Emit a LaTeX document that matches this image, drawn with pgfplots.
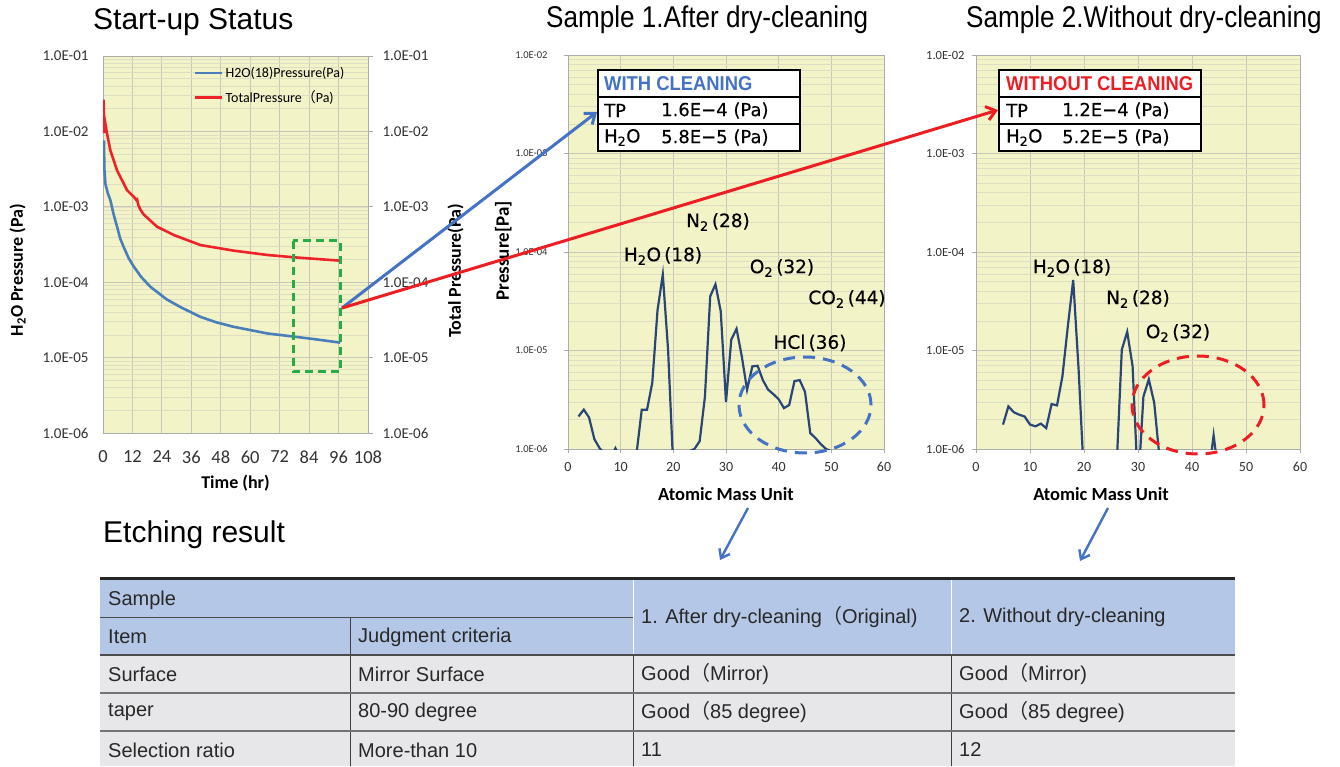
\documentclass[border=0pt]{standalone}
\usepackage{fontspec}
\setmainfont{Liberation Sans}
\newfontfamily\carlito{Carlito}
\newfontfamily\dejavu[FakeBold=0.35]{DejaVu Sans}
\newfontfamily\titlenarrow[FakeStretch=0.87]{Liberation Sans}
\newfontfamily\boxf[FakeStretch=0.92]{Liberation Sans}
\newfontfamily\cjk{Noto Sans CJK SC}
\usepackage{pgfplots}
\pgfplotsset{compat=1.18}
\usetikzlibrary{arrows.meta}

\definecolor{chartbg}{RGB}{243,243,200}
\definecolor{gridc}{RGB}{200,200,185}
\definecolor{mgridc}{RGB}{222,222,196}
\definecolor{h2oblue}{RGB}{74,126,187}
\definecolor{tpred}{RGB}{238,34,40}
\definecolor{navy}{RGB}{42,70,118}
\definecolor{arrblue}{RGB}{68,114,196}
\definecolor{arrred}{RGB}{236,30,36}
\definecolor{dgreen}{RGB}{40,170,70}
\definecolor{hdr}{RGB}{180,199,231}
\definecolor{rowbg}{RGB}{231,231,233}
\definecolor{tickc}{RGB}{50,50,50}
\definecolor{tabtext}{RGB}{40,40,40}

\begin{document}
\begin{tikzpicture}
\path[use as bounding box] (0pt,0pt) rectangle (1340pt,766pt);

% ---------------- Left chart: start-up status ----------------
\begin{axis}[
  scale only axis, anchor=south west, ymode=log,
  axis background/.style={fill=chartbg},
  xmajorgrids, ymajorgrids, yminorgrids,
  major grid style={gridc, line width=0.8pt},
  minor grid style={mgridc, line width=0.6pt},
  axis line style={gray!65, line width=0.9pt},
  xtick pos=bottom, ytick pos=left,
  major tick length=0pt, minor tick length=0pt,
  at={(103pt,333pt)}, width=265pt, height=377pt,
  xmin=0, xmax=108, ymin=1e-6, ymax=1e-1,
  xtick={0,12,24,36,48,60,72,84,96,108},
  xticklabels={0,12,24,36,48,60,72,84,96,108},
  ytick={1e-6,1e-5,1e-4,1e-3,1e-2,1e-1},
  yticklabels={1.0E-06,1.0E-05,1.0E-04,1.0E-03,1.0E-02,1.0E-01},
  yticklabel style={font=\carlito\fontsize{15}{16}\selectfont, text=tickc, xshift=-11pt},
  xticklabel style={font=\carlito\fontsize{18.5}{20}\selectfont, text=tickc, yshift=-14pt},
  xlabel={Time (hr)},
  xlabel style={at={(axis description cs:0.5,0)}, anchor=center, yshift=-50pt,
    font=\carlito\bfseries\fontsize{18}{20}\selectfont},
  ylabel={H\textsubscript{2}O Pressure (Pa)},
  ylabel style={at={(axis description cs:-0.322,0.432)}, anchor=center,
    font=\carlito\bfseries\fontsize{18}{20}\selectfont},
  legend style={at={(axis description cs:0.33,0.982)}, anchor=north west,
    draw=none, fill=none, font=\carlito\fontsize{14}{16}\selectfont,
    row sep=8pt},
  legend image post style={xscale=1.6},
  legend cell align=left,
]
\addplot[h2oblue, line width=2.6pt] coordinates {
  (0.4,7.6e-3) (0.55,3.2e-3) (1.0,2.0e-3) (2.0,1.5e-3) (3.0,1.23e-3)
  (4.3,8.0e-4) (5.7,5.5e-4) (7.0,3.8e-4) (8.4,2.95e-4) (10.4,2.1e-4)
  (12.5,1.62e-4) (15.5,1.18e-4) (19.3,8.7e-5) (26,5.9e-5) (32,4.6e-5)
  (39.7,3.47e-5) (46,2.95e-5) (53,2.57e-5) (60,2.32e-5) (67,2.09e-5)
  (77.7,1.9e-5) (86,1.76e-5) (96.7,1.58e-5)
};
\addlegendentry{H2O(18)Pressure(Pa)}
\addplot[tpred, line width=2.6pt] coordinates {
  (0.27,2.64e-2) (0.41,9.5e-3) (0.82,1.35e-2) (1.63,9.4e-3) (3.0,5.6e-3)
  (5.7,3.06e-3) (9.8,1.66e-3) (12.8,1.33e-3) (13.5,1.24e-3) (13.9,1.26e-3)
  (14.4,1.05e-3) (15.4,9.0e-4) (16.6,7.9e-4) (22,5.45e-4) (28.8,4.23e-4)
  (39.7,3.11e-4) (53.3,2.62e-4) (66.8,2.3e-4) (77.7,2.14e-4) (96.7,1.93e-4)
};
\addlegendentry{TotalPressure{\cjk （}Pa)}
\end{axis}

% right-hand axis of the left chart
\begin{axis}[
  scale only axis, anchor=south west, ymode=log,
  at={(103pt,333pt)}, width=265pt, height=377pt,
  xmin=0, xmax=108, ymin=1e-6, ymax=1e-1,
  axis x line=none, axis y line*=right,
  axis line style={gray!65, line width=0.9pt},
  tick style={gray!65, line width=0.8pt}, tick align=outside,
  major tick length=5pt, minor tick length=0pt,
  ytick={1e-6,1e-5,1e-4,1e-3,1e-2,1e-1},
  yticklabels={1.0E-06,1.0E-05,1.0E-04,1.0E-03,1.0E-02,1.0E-01},
  yticklabel style={font=\carlito\fontsize{15}{16}\selectfont, text=tickc, xshift=6pt},
  ylabel={Total Pressure(Pa)},
  ylabel style={at={(axis description cs:1.33,0.43)}, anchor=center,
    font=\carlito\bfseries\fontsize{18}{20}\selectfont},
]
\end{axis}

% ---------------- Middle chart: with cleaning ----------------
\begin{axis}[
  scale only axis, anchor=south west, ymode=log,
  axis background/.style={fill=chartbg},
  xmajorgrids, ymajorgrids, yminorgrids,
  major grid style={gridc, line width=0.8pt},
  minor grid style={mgridc, line width=0.6pt},
  axis line style={gray!65, line width=0.9pt},
  tick style={gray!65, line width=0.8pt},
  xtick pos=bottom, ytick pos=left, tick align=outside,
  major tick length=4pt, minor tick length=0pt,
  at={(568pt,317pt)}, width=316pt, height=394pt,
  xmin=0, xmax=60, ymin=1e-6, ymax=1e-2,
  xtick={0,10,20,30,40,50,60},
  xticklabels={0,10,20,30,40,50,60},
  ytick={1e-6,1e-5,1e-4,1e-3,1e-2},
  yticklabels={1.0E-06,1.0E-05,1.0E-04,1.0E-03,1.0E-02},
  yticklabel style={font=\carlito\fontsize{10.5}{12}\selectfont, text=tickc, xshift=-13pt},
  xticklabel style={font=\carlito\fontsize{14}{16}\selectfont, text=tickc, yshift=-6pt},
  xlabel={Atomic Mass Unit},
  xlabel style={at={(axis description cs:0.5,0)}, anchor=center, yshift=-45pt,
    font=\carlito\bfseries\fontsize{18.5}{20}\selectfont},
  ylabel={Pressure[Pa]},
  ylabel style={at={(axis description cs:-0.205,0.503)}, anchor=center,
    font=\carlito\bfseries\fontsize{19}{20}\selectfont},
]
\addplot[navy, line width=2.2pt] coordinates {
  (2,2.14e-6) (3,2.51e-6) (4,2.09e-6) (5,1.26e-6) (6,1.02e-6) (7,8.9e-7)
  (8,7.9e-7) (9,1.02e-6) (10,7.9e-7) (11,5e-7) (12,5e-7) (13,8.9e-7)
  (14,2.5e-6) (15,2.5e-6) (16,4.7e-6) (17,2.57e-5) (18,5.9e-5) (19,1.02e-5)
  (20,6.3e-7) (21,3.2e-7) (22,5e-7) (23,9.5e-7) (24,1.0e-6) (25,1.2e-6)
  (26,3.4e-6) (27,3.55e-5) (28,4.7e-5) (29,2.5e-5) (30,3.0e-6) (31,1.29e-5)
  (32,1.66e-5) (33,8.7e-6) (34,4.0e-6) (35,6.9e-6) (36,7.0e-6) (37,5.0e-6)
  (38,4.0e-6) (39,3.6e-6) (40,3.2e-6) (41,2.6e-6) (42,2.8e-6) (43,4.9e-6)
  (44,5.0e-6) (45,3.8e-6) (46,1.45e-6) (47,1.29e-6) (48,1.12e-6) (49,1.0e-6)
  (50,9.5e-7)
};
\end{axis}

% ---------------- Right chart: without cleaning ----------------
\begin{axis}[
  scale only axis, anchor=south west, ymode=log,
  axis background/.style={fill=chartbg},
  xmajorgrids, ymajorgrids, yminorgrids,
  major grid style={gridc, line width=0.8pt},
  minor grid style={mgridc, line width=0.6pt},
  axis line style={gray!65, line width=0.9pt},
  tick style={gray!65, line width=0.8pt},
  xtick pos=bottom, ytick pos=left, tick align=outside,
  major tick length=4pt, minor tick length=0pt,
  at={(976pt,317pt)}, width=324pt, height=394pt,
  xmin=0, xmax=60, ymin=1e-6, ymax=1e-2,
  xtick={0,10,20,30,40,50,60},
  xticklabels={0,10,20,30,40,50,60},
  ytick={1e-6,1e-5,1e-4,1e-3,1e-2},
  yticklabels={1.0E-06,1.0E-05,1.0E-04,1.0E-03,1.0E-02},
  yticklabel style={font=\carlito\fontsize{12.5}{14}\selectfont, text=tickc, xshift=-4pt},
  xticklabel style={font=\carlito\fontsize{14}{16}\selectfont, text=tickc, yshift=-6pt},
  xlabel={Atomic Mass Unit},
  xlabel style={at={(axis description cs:0.386,0)}, anchor=center, yshift=-45pt,
    font=\carlito\bfseries\fontsize{18.5}{20}\selectfont},
]
\addplot[navy, line width=2.2pt] coordinates {
  (5,1.77e-6) (6,2.71e-6) (7,2.36e-6) (8,2.23e-6) (9,2.14e-6) (10,1.77e-6)
  (11,1.70e-6) (12,1.81e-6) (13,1.63e-6) (14,2.86e-6) (15,2.77e-6) (16,5.46e-6)
  (17,1.75e-5) (18,5.2e-5) (19,6.4e-6) (20,5e-7) (21,3e-7) (22,3e-7)
  (23,3e-7) (24,3e-7) (25,3e-7) (26,6e-7) (27,1.02e-5) (28,1.55e-5)
  (29,6.9e-6) (30,4e-7) (31,3.4e-6) (32,5.1e-6) (33,2.95e-6) (34,8e-7)
  (35,3e-7) (36,3e-7) (37,3e-7) (38,3e-7) (39,3e-7) (40,3e-7) (41,3e-7)
  (42,3e-7) (43,5e-7) (44,1.38e-6) (45,5e-7)
};
\end{axis}

% ---------------- Overlays ----------------
\begin{scope}[x=1pt,y=1pt]
% titles
\node[anchor=west, inner sep=0] at (93,744) {\fontsize{30}{32}\selectfont Start-up Status};
\node[anchor=west, inner sep=0] at (546,746) {\titlenarrow\fontsize{30}{32}\selectfont Sample 1.After dry-cleaning};
\node[anchor=west, inner sep=0] at (966,746) {\titlenarrow\fontsize{30}{32}\selectfont Sample 2.Without dry-cleaning};
\node[anchor=west, inner sep=0] at (103,231) {\fontsize{30}{32}\selectfont Etching result};

% green dashed box
\draw[dgreen, line width=3pt, dash pattern=on 8pt off 5pt] (293,525) rectangle (340,394);

% dashed ellipses
\draw[arrblue, line width=3pt, dash pattern=on 12pt off 8pt] (805,361) ellipse [x radius=66, y radius=48];
\draw[arrred, line width=3pt, dash pattern=on 12pt off 8pt] (1198,361) ellipse [x radius=66, y radius=49];

% peak annotations
\begin{scope}[every node/.style={inner sep=0, font=\dejavu\fontsize{18.5}{20}\selectfont}]
\node at (718,544) {N\textsubscript{2}\,(28)};
\node at (663,510) {H\textsubscript{2}O\,(18)};
\node at (782,498) {O\textsubscript{2}\,(32)};
\node at (847,467) {CO\textsubscript{2}\,(44)};
\node at (810,423) {HCl\,(36)};
\node at (1072,498) {H\textsubscript{2}O\,(18)};
\node at (1138,467) {N\textsubscript{2}\,(28)};
\node at (1178,433) {O\textsubscript{2}\,(32)};
\end{scope}

% value boxes
\foreach \bx in {598,999} {
  \fill[white] (\bx,615) rectangle (\bx+202,696);
  \draw[line width=2pt] (\bx,615) rectangle (\bx+202,696);
  \draw[line width=2pt] (\bx,669) -- (\bx+202,669);
  \draw[line width=1.6pt] (\bx,642) -- (\bx+202,642);
}
\begin{scope}[every node/.style={inner sep=0, anchor=west}]
\node[text=arrblue] at (604,682.5) {\boxf\bfseries\fontsize{20}{22}\selectfont WITH CLEANING};
\node at (604,655.5) {\dejavu\fontsize{18}{20}\selectfont TP};
\node at (661,655.5) {\dejavu\fontsize{18}{20}\selectfont 1.6E−4 (Pa)};
\node at (604,628.5) {\dejavu\fontsize{18}{20}\selectfont H\textsubscript{2}O};
\node at (661,628.5) {\dejavu\fontsize{18}{20}\selectfont 5.8E−5 (Pa)};
\node[text=arrred] at (1006,682.5) {\boxf\bfseries\fontsize{20}{22}\selectfont WITHOUT CLEANING};
\node at (1006,655.5) {\dejavu\fontsize{18}{20}\selectfont TP};
\node at (1062,655.5) {\dejavu\fontsize{18}{20}\selectfont 1.2E−4 (Pa)};
\node at (1006,628.5) {\dejavu\fontsize{18}{20}\selectfont H\textsubscript{2}O};
\node at (1062,628.5) {\dejavu\fontsize{18}{20}\selectfont 5.2E−5 (Pa)};
\end{scope}

% arrows
\draw[arrblue, line width=3pt, -{Straight Barb[length=9pt,width=14pt]}] (342,458) -- (597,654);
\draw[arrred, line width=3pt, -{Straight Barb[length=9pt,width=14pt]}] (342,458) -- (998,656);
\draw[arrblue, line width=2.4pt, -{Straight Barb[length=8pt,width=12pt]}] (748,258) -- (720,206);
\draw[arrblue, line width=2.4pt, -{Straight Barb[length=8pt,width=12pt]}] (1108,258) -- (1080,205);

% ---------------- Table ----------------
\fill[hdr] (100,111) rectangle (1235,187);
\fill[rowbg] (100,0) rectangle (1235,111);
\draw[white, line width=1pt] (633,111) -- (633,187);
\draw[white, line width=1pt] (951,111) -- (951,187);
\draw[black!75, line width=1pt] (350,0) -- (350,149);
\draw[black!75, line width=1pt] (633,0) -- (633,111);
\draw[black!75, line width=1pt] (951,0) -- (951,111);
\draw[black!70, line width=1pt] (100,149) -- (633,149);
\draw[black!70, line width=1.4pt] (100,111) -- (1235,111);
\draw[black!55, line width=1.4pt] (100,73) -- (1235,73);
\draw[black!55, line width=1.4pt] (100,35) -- (1235,35);
\draw[black!85, line width=3pt] (100,187.5) -- (1235,187.5);
\begin{scope}[every node/.style={inner sep=0, anchor=west, text=tabtext, font=\fontsize{20}{22}\selectfont}]
\node at (108,166) {Sample};
\node at (108,129) {Item};
\node at (358,129) {Judgment criteria};
\node at (641,148.5) {1. After dry-cleaning{\cjk （}Original)};
\node at (959,148.5) {2. Without dry-cleaning};
\node at (108,92) {Surface};
\node at (358,92) {Mirror Surface};
\node at (641,92) {Good{\cjk （}Mirror)};
\node at (959,92) {Good{\cjk （}Mirror)};
\node at (108,54) {taper};
\node at (358,54) {80-90 degree};
\node at (641,54) {Good{\cjk （}85 degree)};
\node at (959,54) {Good{\cjk （}85 degree)};
\node at (108,16) {Selection ratio};
\node at (358,16) {More-than 10};
\node at (641,16) {11};
\node at (959,16) {12};
\end{scope}
\end{scope}
\end{tikzpicture}
\end{document}
